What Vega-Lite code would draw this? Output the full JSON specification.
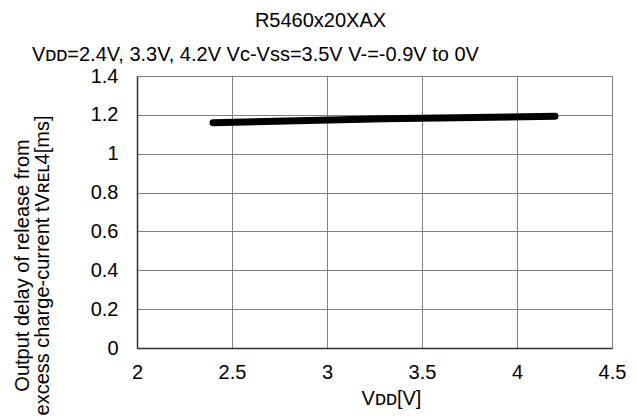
{
  "$schema": "https://vega.github.io/schema/vega-lite/v6.json",
  "width": 475,
  "height": 272,
  "autosize": {"type": "none"},
  "padding": {"left": 137, "top": 76, "right": 25, "bottom": 68},
  "background": "white",
  "config": {
    "font": "Liberation Sans",
    "view": {"stroke": "#808080", "strokeWidth": 1},
    "axis": {"labelFont": "Liberation Sans", "titleFont": "Liberation Sans", "labelColor": "black", "titleColor": "black", "titleFontWeight": "normal", "labelOverlap": false, "labelFlush": false, "labelFontSize": 20, "titleFontSize": 20, "ticks": false, "grid": true, "gridColor": "#808080", "gridWidth": 1, "gridOpacity": 1, "domainColor": "#333333", "domainWidth": 1.5}
  },
  "title": {
    "text": "R5460x20XAX",
    "anchor": "middle",
    "frame": "group",
    "dx": -54,
    "offset": 14,
    "fontSize": 20,
    "fontWeight": "normal",
    "font": "Liberation Sans",
    "color": "black"
  },
  "layer": [
    {
      "data": {"values": [
        {"vdd": 2.4, "t": 1.16},
        {"vdd": 3.3, "t": 1.18},
        {"vdd": 4.2, "t": 1.193}
      ]},
      "mark": {"type": "line", "color": "black", "strokeWidth": 7, "strokeCap": "round"},
      "encoding": {
        "x": {"field": "vdd", "type": "quantitative",
          "scale": {"domain": [2, 4.5], "nice": false, "zero": false},
          "axis": {"values": [2, 2.5, 3, 3.5, 4, 4.5], "format": ".1~f", "title": "Vᴅᴅ[V]",
            "labelPadding": 14, "titlePadding": 6, "titleX": 254}},
        "y": {"field": "t", "type": "quantitative",
          "scale": {"domain": [0, 1.4], "nice": false},
          "axis": {"values": [0, 0.2, 0.4, 0.6, 0.8, 1, 1.2, 1.4], "format": ".1~f",
            "title": ["Output delay of release from", "excess charge-current tVʀᴇʟ4[ms]"],
            "labelPadding": 19, "titlePadding": 38, "titleLineHeight": 20, "titleY": 189}}
      }
    },
    {
      "data": {"values": [{"label": "Vᴅᴅ=2.4V, 3.3V, 4.2V Vc-Vss=3.5V V-=-0.9V to 0V"}]},
      "mark": {"type": "text", "align": "left", "baseline": "alphabetic", "fontSize": 20, "dy": -15, "color": "black", "font": "Liberation Sans"},
      "encoding": {
        "x": {"datum": 1.447, "type": "quantitative",
          "axis": {"values": [2, 2.5, 3, 3.5, 4, 4.5], "format": ".1~f", "title": "Vᴅᴅ[V]",
            "labelPadding": 14, "titlePadding": 6, "titleX": 254}},
        "y": {"datum": 1.4, "type": "quantitative",
          "axis": {"values": [0, 0.2, 0.4, 0.6, 0.8, 1, 1.2, 1.4], "format": ".1~f",
            "title": ["Output delay of release from", "excess charge-current tVʀᴇʟ4[ms]"],
            "labelPadding": 19, "titlePadding": 38, "titleLineHeight": 20, "titleY": 189}},
        "text": {"field": "label"}
      }
    }
  ]
}
